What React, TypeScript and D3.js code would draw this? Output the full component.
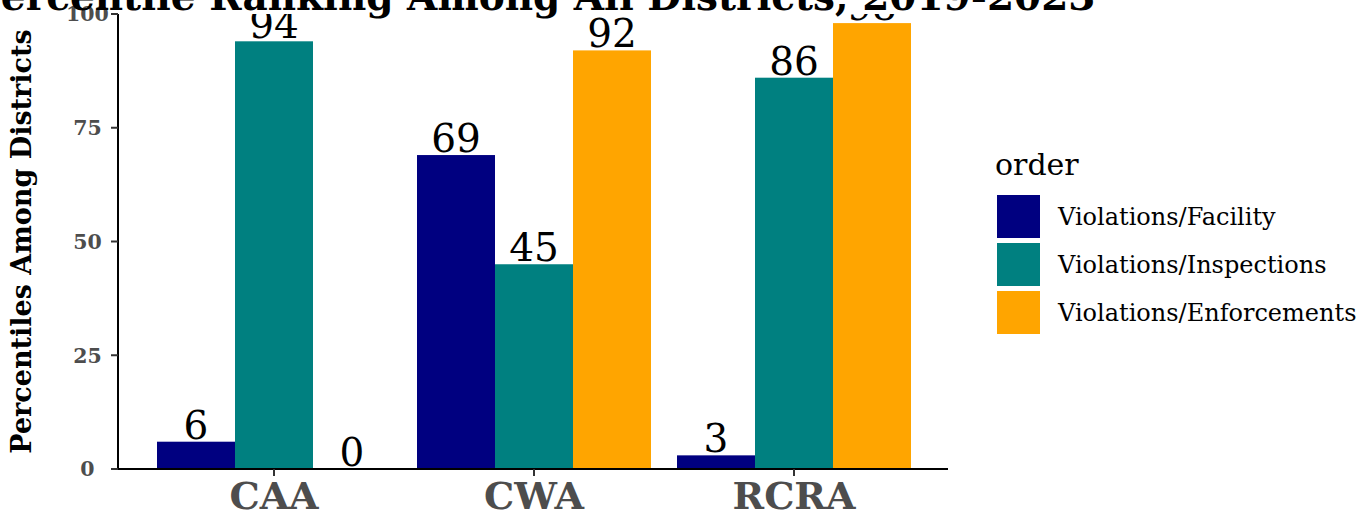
import React from "react";
import * as d3 from "d3";

const categories = ["CAA", "CWA", "RCRA"];
const seriesNames = ["Violations/Facility", "Violations/Inspections", "Violations/Enforcements"];
const facilityValues = [6, 69, 3];
const inspectionValues = [94, 45, 86];
const enforcementValues = [0, 92, 98];
const yTicks = [0, 25, 50, 75, 100];
const colors = ["#000080", "#008080", "#FFA500"];

const W = 1370;
const H = 514;
const panel = { left: 118, right: 950, top: 14, bottom: 469 };
const font = "'DejaVu Serif', serif";

export default function App() {
  const series = [facilityValues, inspectionValues, enforcementValues];

  const x = d3
    .scalePoint<string>()
    .domain(categories)
    .range([panel.left, panel.right])
    .padding(0.6);
  const step = x.step();
  const inner = d3
    .scaleBand<number>()
    .domain([0, 1, 2])
    .range([-0.45 * step, 0.45 * step])
    .padding(0);
  const y = d3.scaleLinear().domain([0, 100]).range([panel.bottom, panel.top]);

  return (
    <svg width={W} height={H} style={{ position: "absolute", left: 0, top: 0 }}>
      <defs>
        <clipPath id="panelClip">
          <rect
            x={panel.left}
            y={panel.top}
            width={panel.right - panel.left}
            height={panel.bottom - panel.top}
          />
        </clipPath>
      </defs>
      <rect width={W} height={H} fill="white" />

      <g clipPath="url(#panelClip)">
        {series.map((vals, si) =>
          categories.map((c, ci) => {
            const x0 = (x(c) as number) + (inner(si) as number);
            const bw = inner.bandwidth();
            const v = vals[ci];
            return (
              <g key={`${si}-${ci}`}>
                {v > 0 && (
                  <rect x={x0} y={y(v)} width={bw} height={y(0) - y(v)} fill={colors[si]} />
                )}
                <text
                  x={x0 + bw / 2}
                  y={y(v) - 3}
                  textAnchor="middle"
                  fontFamily={font}
                  fontSize={39}
                  fill="black"
                >
                  {v}
                </text>
              </g>
            );
          })
        )}
      </g>

      {/* y axis */}
      <line x1={panel.left} x2={panel.left} y1={panel.top} y2={panel.bottom + 1} stroke="black" strokeWidth={2} />
      {yTicks.map((t) => (
        <g key={t}>
          <line x1={panel.left - 7} x2={panel.left} y1={y(t)} y2={y(t)} stroke="#333" strokeWidth={2} />
          <text
            x={87.5}
            y={y(t)}
            dy="0.36em"
            textAnchor="middle"
            fontFamily={font}
            fontWeight="bold"
            fontSize={20.5}
            fill="#4D4D4D"
          >
            {t}
          </text>
        </g>
      ))}

      <text
        x={(panel.left + panel.right) / 2}
        y={10}
        textAnchor="middle"
        fontFamily={font}
        fontWeight="bold"
        fontSize={39}
        fill="black"
      >
        Percentile Ranking Among All Districts, 2019-2023
      </text>

      <text
        transform={`translate(31,${(panel.top + panel.bottom) / 2}) rotate(-90)`}
        textAnchor="middle"
        fontFamily={font}
        fontWeight="bold"
        fontSize={27}
        fill="black"
      >
        Percentiles Among Districts
      </text>

      {/* x axis */}
      <line x1={panel.left} x2={panel.right - 2} y1={panel.bottom} y2={panel.bottom} stroke="black" strokeWidth={2} />
      {categories.map((c) => (
        <g key={c}>
          <line x1={x(c)} x2={x(c)} y1={panel.bottom} y2={panel.bottom + 7} stroke="#333" strokeWidth={2} />
          <text
            x={x(c)}
            y={509}
            textAnchor="middle"
            fontFamily={font}
            fontWeight="bold"
            fontSize={38}
            fill="#4D4D4D"
          >
            {c}
          </text>
        </g>
      ))}

      {/* legend */}
      <text x={995} y={175} fontFamily={font} fontSize={30} fill="black">
        order
      </text>
      {seriesNames.map((n, i) => (
        <g key={n}>
          <rect x={997} y={195 + i * 48} width={43} height={43} fill={colors[i]} />
          <text
            x={1058}
            y={195 + i * 48 + 21.5}
            dy="0.35em"
            fontFamily={font}
            fontSize={24}
            fill="black"
          >
            {n}
          </text>
        </g>
      ))}
    </svg>
  );
}
